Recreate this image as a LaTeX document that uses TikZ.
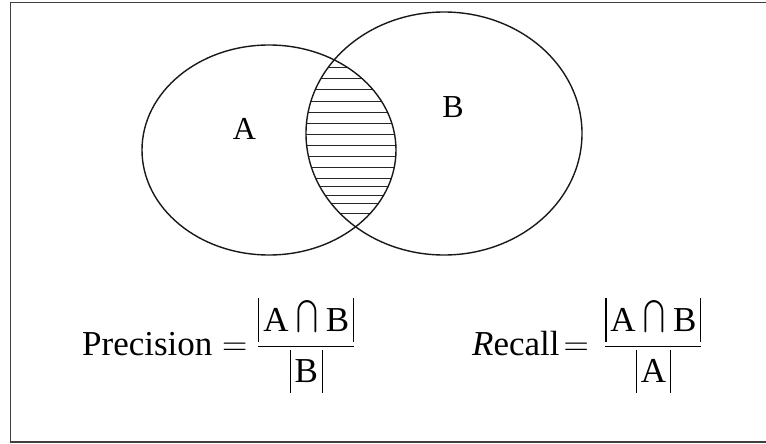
\documentclass[tikz,border=0pt]{standalone}
\usepackage{fix-cm}
\usepackage{amsmath}
\usepackage{graphicx}
\usepackage{fontspec}
\setmainfont{Liberation Serif}
\newcommand{\vbr}{\vrule width 1.1pt height 0.94em depth 0.3em}
\newcommand{\absv}[1]{\mathord{\vbr\mkern2mu#1\mkern2mu\vbr}}
\newcommand{\bcap}{\mathbin{\raisebox{0.1em}{\scalebox{1.05}[1.3]{$\bigcap$}}}}
\begin{document}
\begin{tikzpicture}[x=1pt,y=-1pt,
  setline/.style={line width=1.4pt, draw=black!90},
  hatchline/.style={line width=1pt, draw=black!85},
  lbl/.style={font=\fontsize{32}{38}\selectfont, inner sep=0pt},
  formula/.style={font=\fontsize{35}{42}\selectfont, inner sep=0pt, anchor=base west}]
\useasboundingbox (0,0) rectangle (766,444);
\draw[line width=1.6pt, draw=black!75] (10.5,2.5) rectangle (767,442);
% hatching of the intersection
\begin{scope}
  \clip (269,150) ellipse [x radius=127pt, y radius=105pt];
  \clip (444,133.5) ellipse [x radius=138pt, y radius=121.5pt];
  \foreach \yy in {68,79,90,101,112,123,134,145,156,167,178,186,195,203,213}
    \draw[hatchline] (300,\yy) -- (400,\yy);
\end{scope}
% the two sets
\draw[setline] (269,150) ellipse [x radius=127pt, y radius=105pt];
\draw[setline] (444,133.5) ellipse [x radius=138pt, y radius=121.5pt];
\node[lbl] (la) at (244.5,129) {A};
\node[lbl] (lb) at (453,107) {B};
% formulas
\node[formula] (prec) at (82,355) {$\mathrm{Precision}=\dfrac{\absv{\mathrm{A}\bcap\mathrm{B}}}{\absv{\mathrm{B}}}$};
\node[formula] (rec) at (472,355) {$\mathit{R}\mathrm{ecall}\mkern2mu{=}\mkern8mu\dfrac{\absv{\mathrm{A}\bcap\mathrm{B}}}{\absv{\mathrm{A}}}$};
\end{tikzpicture}
\end{document}
